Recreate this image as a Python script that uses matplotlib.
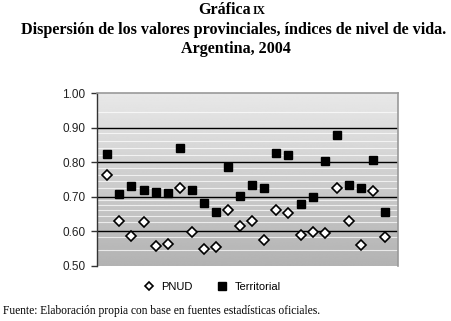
import numpy as np
import matplotlib
matplotlib.use("Agg")
from matplotlib import pyplot as plt
from matplotlib.lines import Line2D

# provinces 1..24
provincias = np.arange(1, 25)
pnud = [0.763, 0.630, 0.586, 0.626, 0.559, 0.565, 0.727, 0.599, 0.548, 0.556, 0.661, 0.617,
        0.630, 0.575, 0.661, 0.654, 0.590, 0.599, 0.596, 0.727, 0.630, 0.562, 0.717, 0.583]
territorial = [0.825, 0.708, 0.732, 0.719, 0.715, 0.710, 0.842, 0.721, 0.681, 0.656, 0.788, 0.704,
               0.735, 0.725, 0.828, 0.821, 0.680, 0.701, 0.804, 0.879, 0.735, 0.725, 0.807, 0.656]
yticks = [0.50, 0.60, 0.70, 0.80, 0.90, 1.00]

W, H = 451, 321
fig = plt.figure(figsize=(W / 100, H / 100), dpi=100)
ax = fig.add_axes([96.7 / W, 1 - 266 / H, 301 / W, 172.7 / H])

# gray gradient background
grad = np.linspace(0.70, 0.91, 256).reshape(-1, 1)
ax.imshow(grad, cmap="gray", vmin=0, vmax=1, aspect="auto",
          extent=[0.12, 25.05, 0.5, 1.0], origin="lower", zorder=0)
for yy in [0.945, 0.885, 0.862, 0.842, 0.822, 0.784, 0.764, 0.745, 0.727, 0.690,
           0.676, 0.662, 0.646, 0.628, 0.585, 0.545]:
    ax.axhline(yy, color="white", lw=0.8, alpha=0.7, zorder=1)
for yy in [0.6, 0.7, 0.8, 0.9]:
    ax.axhline(yy, color="black", lw=1.0, zorder=2)

ax.plot(provincias, pnud, ls="none", marker="D", ms=5.5, mfc="white", mec="black",
        mew=1.2, zorder=4)
ax.plot(provincias, territorial, ls="none", marker="s", ms=6.2, mfc="black", mec="black",
        zorder=4)

ax.set_xlim(0.12, 25.05)
ax.set_ylim(0.5, 1.0)
ax.set_xticks([])
ax.set_yticks(yticks)
ax.set_yticklabels(["%.2f" % v for v in yticks], fontsize=8.5, family="Liberation Sans",
                   color="#222222")
ax.tick_params(axis="y", direction="out", length=4, width=1, color="#333333", pad=4)
for s in ["top", "right"]:
    ax.spines[s].set_color("#999999")
    ax.spines[s].set_linewidth(1.2)
ax.spines["bottom"].set_visible(False)
ax.spines["left"].set_color("#333333")
ax.spines["left"].set_linewidth(1.0)

# title
serif = "Liberation Serif"
fig.text(251 / W, 1 - 10 / H, "Gráfica", ha="right", va="center",
         fontsize=11.5, weight="bold", family=serif)
fig.text(253 / W, 1 - 11 / H, "IX", ha="left", va="center",
         fontsize=8.5, weight="bold", family=serif)
fig.text(234 / W, 1 - 30 / H, "Dispersión de los valores provinciales, índices de nivel de vida.",
         ha="center", va="center", fontsize=11.6, weight="bold", family=serif)
fig.text(236 / W, 1 - 49 / H, "Argentina, 2004", ha="center", va="center",
         fontsize=11.6, weight="bold", family=serif)

# legend
handles = [Line2D([], [], ls="none", marker="D", ms=4.5, mfc="white", mec="black", mew=1.2),
           Line2D([], [], ls="none", marker="s", ms=5.5, mfc="black", mec="black")]
fig.legend(handles, ["PNUD", "Territorial"], loc="center", bbox_to_anchor=(212 / W, 1 - 287 / H),
           ncol=2, frameon=False, handlelength=1.0, handletextpad=0.6, columnspacing=2.2,
           prop={"family": "Liberation Sans", "size": 8})

fig.text(3 / W, 1 - 311 / H, "Fuente: Elaboración propia con base en fuentes estadísticas oficiales.",
         ha="left", va="center", fontsize=8.3, family=serif)

fig.savefig("out.png", dpi=100)
